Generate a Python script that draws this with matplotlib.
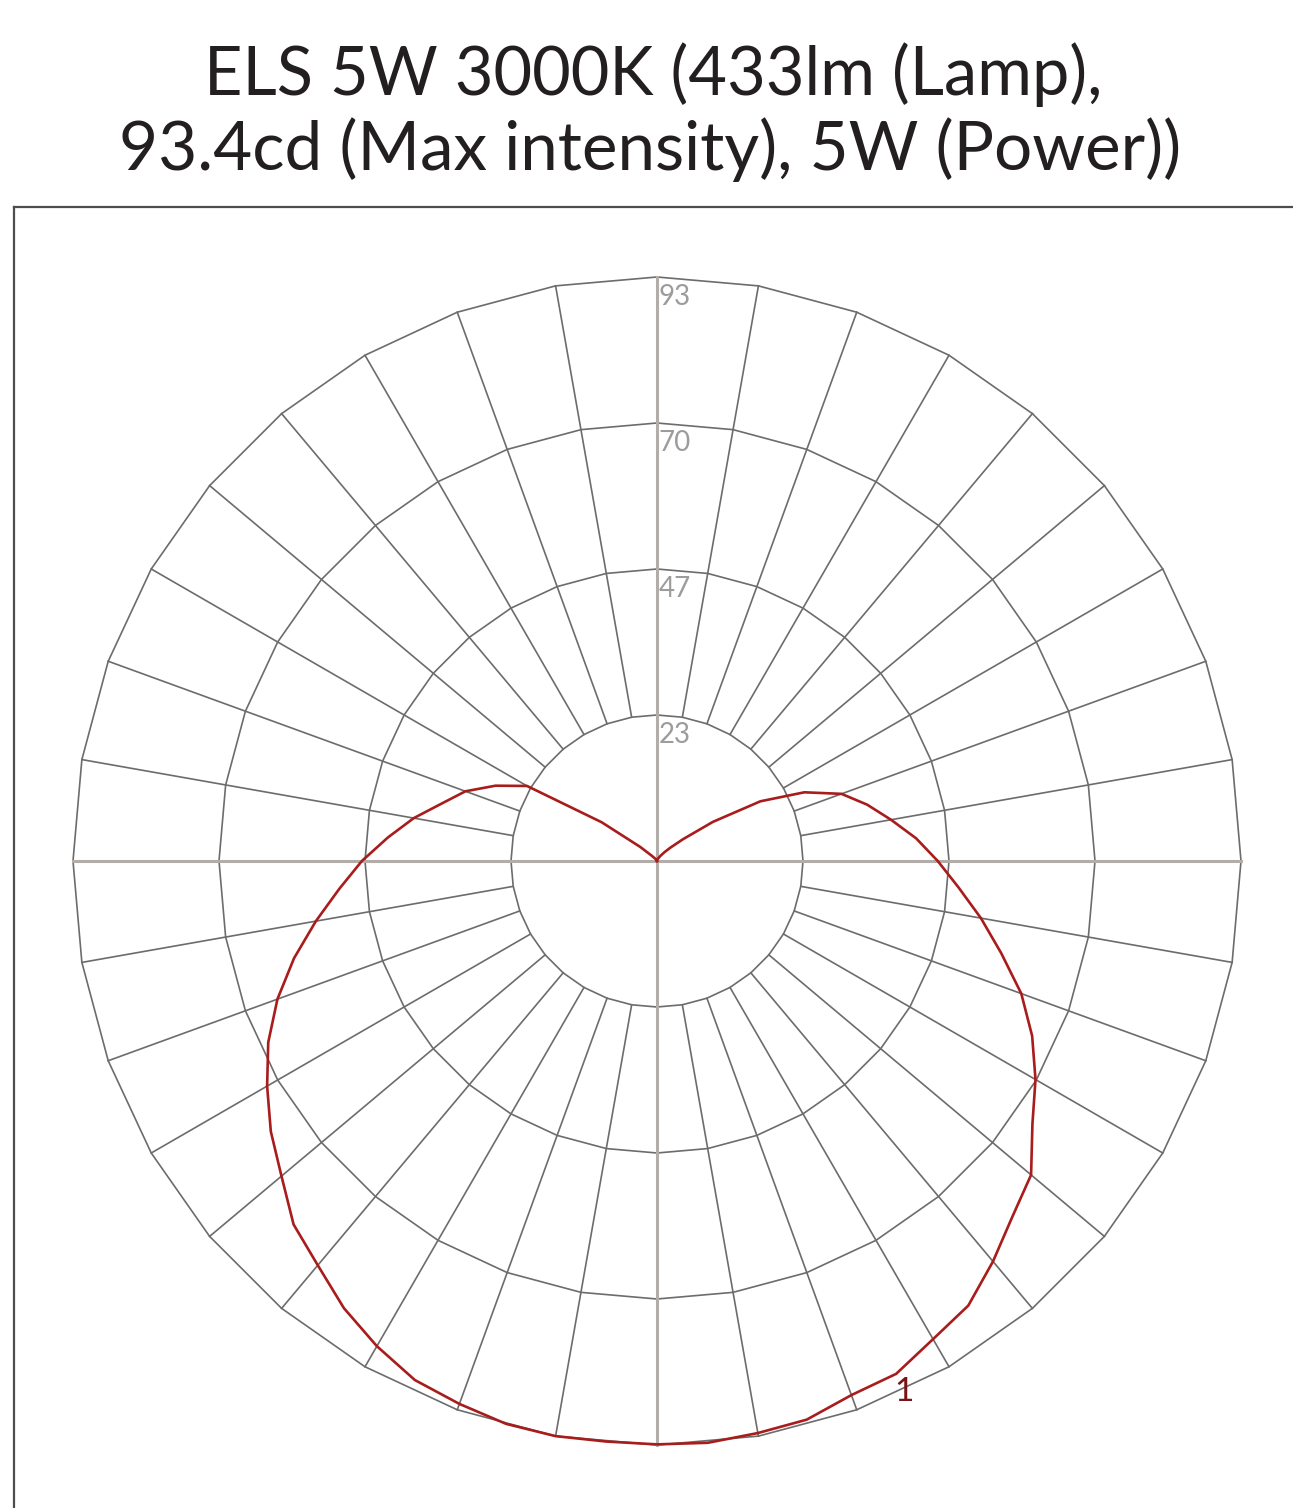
import numpy as np
import matplotlib
matplotlib.use("Agg")
import matplotlib.pyplot as plt

# title text
title_line1 = "ELS 5W 3000K (433lm (Lamp),"
title_line2 = "93.4cd (Max intensity), 5W (Power))"

# rings (cd) and their labels
max_cd = 93.4
ring_values = [23.35, 46.7, 70.05, 93.4]
ring_labels = ["23", "47", "70", "93"]

# intensity curve, gamma measured from nadir (0 = straight down)
gamma = [0, 5, 10, 15, 20, 25, 30, 35, 40, 45, 50, 55, 60, 65, 70, 75, 80, 85, 90,
         95, 100, 105, 110, 115, 120, 125, 130, 135, 140, 145, 150, 155, 160, 165,
         170, 175, 180]
cd_right = [93.3, 93.4, 92.9, 92.5, 90.9, 90.5, 88.3, 86.8, 83.6, 80.4, 78.1, 73.3,
            69.9, 66.2, 62.0, 57.0, 52.6, 48.4, 44.9, 41.6, 38.0, 34.8, 31.4, 26.0,
            19.1, 10.9, 5.4, 3.0, 1.8, 1.1, 0.7, 0.4, 0.3, 0.2, 0.1, 0.0, 0.0]
cd_left = [93.3, 93.2, 93.4, 93.2, 92.4, 91.6, 89.6, 87.3, 84.4, 82.2, 78.4, 75.4,
           72.0, 68.6, 64.6, 60.1, 55.4, 51.0, 47.2, 43.2, 39.5, 35.6, 32.6, 28.5,
           24.0, 10.8, 3.5, 1.2, 0.6, 0.4, 0.3, 0.2, 0.1, 0.1, 0.0, 0.0, 0.0]
curve_label = "1"

TITLE_FONT = ["Lato", "DejaVu Sans"]
LABEL_FONT = ["Lato", "DejaVu Sans"]

W, H = 1293, 1508
fig = plt.figure(figsize=(W / 100, H / 100), dpi=100)

# frame: left edge and top edge visible, runs off right/bottom
left_px, top_px = 14, 207
cx, cy = 657, 861          # centre of the diagram in pixels
scale = 584 / max_cd        # pixels per cd

ax = fig.add_axes([left_px / W, 0, 1 - left_px / W, 1 - top_px / H])
ax.set_xlim(-(cx - left_px) / scale, (W - cx) / scale)
ax.set_ylim(-(H - cy) / scale, (cy - top_px) / scale)
ax.set_xticks([])
ax.set_yticks([])
for s in ["right", "bottom"]:
    ax.spines[s].set_visible(False)
for s in ["left", "top"]:
    ax.spines[s].set_color("#4d4d4d")
    ax.spines[s].set_linewidth(1.6)

grid_col = "#6c6c6c"
axis_col = "#b3ada9"

# spokes every 10 deg, from the inner ring outwards
for deg in range(0, 360, 10):
    if deg % 90 == 0:
        continue
    a = np.deg2rad(deg)
    r = np.array([ring_values[0], ring_values[-1]])
    ax.plot(r * np.sin(a), -r * np.cos(a), color=grid_col, lw=1.2, zorder=1)

# rings drawn as polygons through the spokes
poly = np.deg2rad(np.arange(0, 361, 10))
for rv in ring_values:
    ax.plot(rv * np.sin(poly), -rv * np.cos(poly), color=grid_col, lw=1.2, zorder=1)

# main axes through the centre
ax.plot([-max_cd, max_cd], [0, 0], color=axis_col, lw=2.2, zorder=2)
ax.plot([0, 0], [-max_cd, max_cd], color=axis_col, lw=2.2, zorder=2)

for rv, lab in zip(ring_values, ring_labels):
    ax.text(0.3, rv - 1.1, lab, ha="left", va="top", color="#9c9c9c",
            fontsize=20, family=LABEL_FONT, zorder=3)

# curve: left half from top down to nadir, then right half back up
g = np.deg2rad(gamma)
cl = np.array(cd_left)
cr = np.array(cd_right)
xs = np.concatenate([(-cl * np.sin(g))[::-1], (cr * np.sin(g))[1:]])
ys = np.concatenate([(-cl * np.cos(g))[::-1], (-cr * np.cos(g))[1:]])
ax.plot(xs, ys, color="#a81c1c", lw=1.9, zorder=4, solid_joinstyle="round")

i25 = gamma.index(25)
ax.annotate(curve_label, xy=(cr[i25] * np.sin(g[i25]), -cr[i25] * np.cos(g[i25])),
            xytext=(6, -13), textcoords="offset points", ha="center", va="center",
            color="#7a1414", fontsize=24, family=LABEL_FONT, zorder=5)

fig.text(0.505, 1 - 95 / H, title_line1, ha="center", va="baseline",
         fontsize=48, color="#231f20", family=TITLE_FONT)
fig.text(0.503, 1 - 170 / H, title_line2, ha="center", va="baseline",
         fontsize=48.5, color="#231f20", family=TITLE_FONT)

fig.savefig("out.png", dpi=100, facecolor="white")
plt.close(fig)
